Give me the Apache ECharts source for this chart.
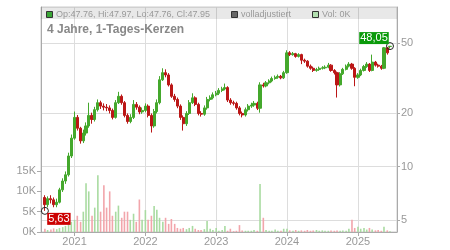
<!DOCTYPE html>
<html><head><meta charset="utf-8">
<script src="https://cdn.jsdelivr.net/npm/echarts@6/dist/echarts.min.js"></script>
<style>html,body{margin:0;padding:0;background:#fff}#c{width:450px;height:250px}</style>
</head><body><div id="c"></div>
<script>
const dates = [
'2020-08-01','2020-08-15','2020-09-01','2020-09-15','2020-10-01','2020-10-15','2020-11-01','2020-11-15','2020-12-01','2020-12-15',
'2021-01-01','2021-01-15','2021-02-01','2021-02-15','2021-03-01','2021-03-15','2021-04-01','2021-04-15','2021-05-01','2021-05-15','2021-06-01','2021-06-15',
'2021-07-01','2021-07-15','2021-08-01','2021-08-15','2021-09-01','2021-09-15','2021-10-01','2021-10-15','2021-11-01','2021-11-15','2021-12-01','2021-12-15',
'2022-01-01','2022-01-15','2022-02-01','2022-02-15','2022-03-01','2022-03-15','2022-04-01','2022-04-15','2022-05-01','2022-05-15','2022-06-01','2022-06-15',
'2022-07-01','2022-07-15','2022-08-01','2022-08-15','2022-09-01','2022-09-15','2022-10-01','2022-10-15','2022-11-01','2022-11-15','2022-12-01','2022-12-15',
'2023-01-01','2023-01-15','2023-02-01','2023-02-15','2023-03-01','2023-03-15','2023-04-01','2023-04-15','2023-05-01','2023-05-15','2023-06-01','2023-06-15',
'2023-07-01','2023-07-15','2023-08-01','2023-08-15','2023-09-01','2023-09-15','2023-10-01','2023-10-15','2023-11-01','2023-11-15','2023-12-01','2023-12-15',
'2024-01-01','2024-01-15','2024-02-01','2024-02-15','2024-03-01','2024-03-15','2024-04-01','2024-04-15','2024-05-01','2024-05-15','2024-06-01','2024-06-15',
'2024-07-01','2024-07-15','2024-08-01','2024-08-15','2024-09-01','2024-09-15','2024-10-01','2024-10-15','2024-11-01','2024-11-15','2024-12-01','2024-12-15',
'2025-01-01','2025-01-15','2025-02-01','2025-02-15','2025-03-01','2025-03-15','2025-04-01','2025-04-15','2025-05-01','2025-05-15','2025-06-01','2025-06-15'
];
const opens = [
6.7,6.1,6.6,6.5,6.1,6.3,7.4,8.3,9.0,11.5,
14.5,19,16.5,14,15.5,17,19.5,18.5,21,23,
22,21.7,21.5,20.8,19,23,25,23,19.5,18,
19,22.5,21.7,20.4,20.8,22,19.5,17,20.5,23,
31,34,33,29,25,24,22,19,17.5,20,
23,24.5,22.5,20,19.8,21.5,24,24.5,25.5,26,
27,27.5,28,23.8,23,22.8,21.5,20,19.6,21,
22,22.3,22.8,21.4,29,28.6,29.8,30.5,31.5,32,
32.4,31.8,34,44,43,43.5,42,43,40,39.5,
37,36,35,35.4,36,36.2,36.5,37.5,35,34,
29,33.5,35.5,37,38,36,32,33,35,36.8,
38,35,39,37.5,37,36,47,47.76];
const closes = [
6.1,6.6,6.5,6.1,6.3,7.4,8.3,9.0,11.5,14.5,
19,16.5,14,15.5,17,19.5,18.5,21,23,22,
21.7,21.5,20.8,19,23,25,23,19.5,18,19,
22.5,21.7,20.4,20.8,22,19.5,17,20.5,23,31,
34,33,29,25,24,22,19,17.5,20,23,
24.5,22.5,20,19.8,21.5,24,24.5,25.5,26,27,
27.5,28,23.8,23,22.8,21.5,20,19.6,21,22,
22.3,22.8,21.4,29,28.6,29.8,30.5,31.5,32,32.4,
31.8,34,44,43,43.5,42,43,40,39.5,37,
36,35,35.4,36,36.2,36.5,37.5,35,34,29,
33.5,35.5,37,38,36,32,33,35,36.8,38,
35,39,37.5,37,36,47,44,47.95];
const lows = [
5.63,5.9,6.2,5.9,5.9,6.2,7.2,8.0,8.8,11.2,
14.2,16.0,13.5,13.6,15.0,16.6,17.5,18.0,20.5,21.2,
20.8,20.6,20.0,18.5,18.7,22.6,22.4,19.0,17.5,17.6,
18.6,21,19.8,19.9,20.3,19,15.6,16.6,20,22.5,
30.5,32,28.4,24.5,23.3,21.4,18.4,16.0,17.0,19.6,
22.6,22,19.5,19.2,19.4,21.0,23.4,24,25,25.4,
26.4,27,23.2,22.4,22.2,21,19.5,19,19.2,20.5,
21.5,21.8,20.9,20.2,28,28.1,29.2,30,31,31.4,
31.2,31.3,33.5,42.2,42.4,41.3,41.4,38,38.6,36.3,
35.3,34.3,34.4,34.8,35.4,35.6,36,34.4,33.2,24.6,
28.4,33,35,36.4,35.3,28.5,31.4,32.5,34.5,36.2,
34.3,34.6,36.8,36.3,35.3,35.6,43,46.5];
const highs = [
6.9,6.8,6.9,6.7,6.6,7.6,8.6,9.4,12.0,15.2,
20.5,19.6,16.8,16.2,17.8,23,20.2,21.8,24,23.6,
22.8,22.6,22.2,21.3,23.8,26.5,25.6,23.5,20,19.8,
23.8,23.2,22.2,21.6,22.8,22.5,20,21.2,24,32.5,
36,35.5,33.8,29.6,25.8,24.6,22.5,19.5,20.6,23.8,
26,25,23,20.6,22.2,24.8,25.3,26.3,26.8,27.8,
28.3,29.5,28.5,24.4,23.6,23.3,22,20.5,21.6,22.6,
23,23.5,23.3,30,29.8,30.5,31.2,32.3,32.8,33.2,
33,34.8,45.5,45,44.5,44,43.8,43.5,40.8,40,
37.8,36.8,36.2,36.8,37,37.4,38.6,38,35.6,34.5,
34.2,36.2,37.8,39,38.6,36.5,33.8,35.8,37.6,39,
38.5,43,39.6,38.2,37.6,47.5,47.4,48.05];
const volumes = [
0.8,0.5,0.6,0.9,0.7,1.0,1.2,1.5,2.0,2.5,
3.0,4.0,2.5,5.0,12.0,10.0,4.0,6.0,14.0,5.0,
11.5,6.0,10.0,4.0,5.0,6.5,3.5,5.0,5.0,3.0,
4.5,2.5,8.0,3.0,5.4,3.0,4.0,6.4,5.5,3.5,
2.5,3.5,2.0,3.2,2.0,1.0,0.8,1.0,0.7,1.0,
1.5,0.8,0.5,0.5,0.7,2.7,0.8,0.5,1.0,0.3,
0.5,1.5,0.3,0.8,0.2,0.3,1.7,0.4,0.3,0.3,
0.3,0.5,0.3,11.8,3.5,0.5,0.3,0.3,0.6,0.3,
0.3,0.8,0.8,0.4,0.3,0.5,0.3,0.4,0.3,0.5,
0.3,0.4,0.5,0.3,0.4,0.3,0.3,0.4,0.3,0.4,
0.3,0.4,0.3,0.8,3.0,1.0,1.3,0.8,1.0,0.6,
1.0,0.6,0.4,0.5,0.3,1.3,0.4,0.2];
const priceTicks = [5,10,20,50];
const volTicks = [0,5,10,15];
const minLabel = {date:'2020-08-01', value:5.63, text:'5,63'};
const maxLabel = {date:'2025-06-15', value:48.05, text:'48,05'};

const FONT = 'Liberation Sans, Arial, sans-serif';
const UP = '#44a82c', DOWN = '#bb1616';
const VUP = '#a9dba1', VDOWN = '#f2a5ab';
const toTs = s => { const p = s.split('-'); return new Date(+p[0], +p[1]-1, +p[2]).getTime(); };

const candleData = dates.map((d,i)=>[toTs(d), opens[i], closes[i], lows[i], highs[i]]);
const volData = dates.map((d,i)=>({value:[toTs(d), volumes[i]], itemStyle:{color: closes[i]>=opens[i]?VUP:VDOWN}}));

const chart = echarts.init(document.getElementById('c'));
chart.setOption({
  animation:false,
  textStyle:{fontFamily:FONT},
  grid:{left:41,right:53,top:7,bottom:18,show:true,borderColor:'#cccccc',borderWidth:1},
  xAxis:{type:'time',min:toTs('2020-07-16'),max:toTs('2025-07-17'),
    splitNumber:5, minInterval:365*24*3600*1000,
    axisLine:{lineStyle:{color:'#aaaaaa'}},
    axisTick:{show:true,length:4,lineStyle:{color:'#aaaaaa'}},
    axisLabel:{color:'#999999',fontSize:11,margin:4,fontFamily:FONT,
      formatter:v=>String(new Date(v).getFullYear())},
    splitLine:{show:true,lineStyle:{color:'#dddddd',width:1}}},
  yAxis:[
    {type:'log',logBase:10,position:'right',min:4.276,max:79.9,
      axisLine:{show:true,lineStyle:{color:'#aaaaaa'}},
      axisTick:{show:true,length:3,lineStyle:{color:'#aaaaaa'},customValues:priceTicks},
      axisLabel:{color:'#999999',fontSize:11,margin:4,fontFamily:FONT,customValues:priceTicks},
      splitLine:{show:true,lineStyle:{color:'#dddddd',width:1}}},
    {type:'value',position:'left',min:0,max:55.4,
      axisLine:{show:true,lineStyle:{color:'#aaaaaa'}},
      axisTick:{show:true,length:4,lineStyle:{color:'#aaaaaa'},customValues:volTicks},
      axisLabel:{color:'#999999',fontSize:11,margin:5,fontFamily:FONT,customValues:volTicks,formatter:'{value}K'},
      splitLine:{show:false}}
  ],
  series:[
    {type:'bar',xAxisIndex:0,yAxisIndex:1,data:volData,barWidth:1.6,z:1},
    {type:'candlestick',xAxisIndex:0,yAxisIndex:0,data:candleData,barWidth:2.6,z:3,
      itemStyle:{color:UP,color0:DOWN,borderColor:UP,borderColor0:DOWN,borderWidth:1},
      markPoint:{silent:true,data:[
        {coord:[toTs(minLabel.date),minLabel.value],symbol:'circle',symbolSize:7,
          itemStyle:{color:'rgba(0,0,0,0)',borderColor:'#222',borderWidth:1},
          label:{show:true,position:'inside',offset:[14,8],formatter:minLabel.text,backgroundColor:'#cc0000',color:'#ffffff',fontSize:11,fontFamily:FONT,padding:[1,1,0,1]}},
        {coord:[toTs(maxLabel.date),maxLabel.value],symbol:'circle',symbolSize:7,
          itemStyle:{color:'rgba(0,0,0,0)',borderColor:'#222',borderWidth:1},
          label:{show:true,position:'inside',offset:[-16,-8],formatter:maxLabel.text,backgroundColor:'#0a9a0a',color:'#ffffff',fontSize:11,fontFamily:FONT,padding:[1,1,0,1]}}
      ]}}
  ],
  graphic:[
    {type:'rect',shape:{x:41,y:7,width:356,height:12},style:{fill:'rgba(0,0,0,0.09)'},z:10,silent:true},
    {type:'rect',shape:{x:46.5,y:11.5,width:6,height:6},style:{fill:'#3aa636',stroke:'#333',lineWidth:1},z:11},
    {type:'text',x:56,y:14.5,style:{text:'Op:47.76, Hi:47.97, Lo:47.76, Cl:47.95',fill:'#999999',font:'9px '+FONT,verticalAlign:'middle'},z:11},
    {type:'rect',shape:{x:231.5,y:11.5,width:6,height:6},style:{fill:'#666666',stroke:'#333',lineWidth:1},z:11},
    {type:'text',x:241,y:14.5,style:{text:'volladjustiert',fill:'#999999',font:'9px '+FONT,verticalAlign:'middle'},z:11},
    {type:'rect',shape:{x:312.5,y:11.5,width:6,height:6},style:{fill:'#b3e0b0',stroke:'#333',lineWidth:1},z:11},
    {type:'text',x:322,y:14.5,style:{text:'Vol: 0K',fill:'#999999',font:'9px '+FONT,verticalAlign:'middle'},z:11},
    {type:'text',x:47,y:30,style:{text:'4 Jahre, 1-Tages-Kerzen',fill:'#888888',font:'bold 12px '+FONT,verticalAlign:'middle'},z:11}
  ]
});
</script></body></html>
